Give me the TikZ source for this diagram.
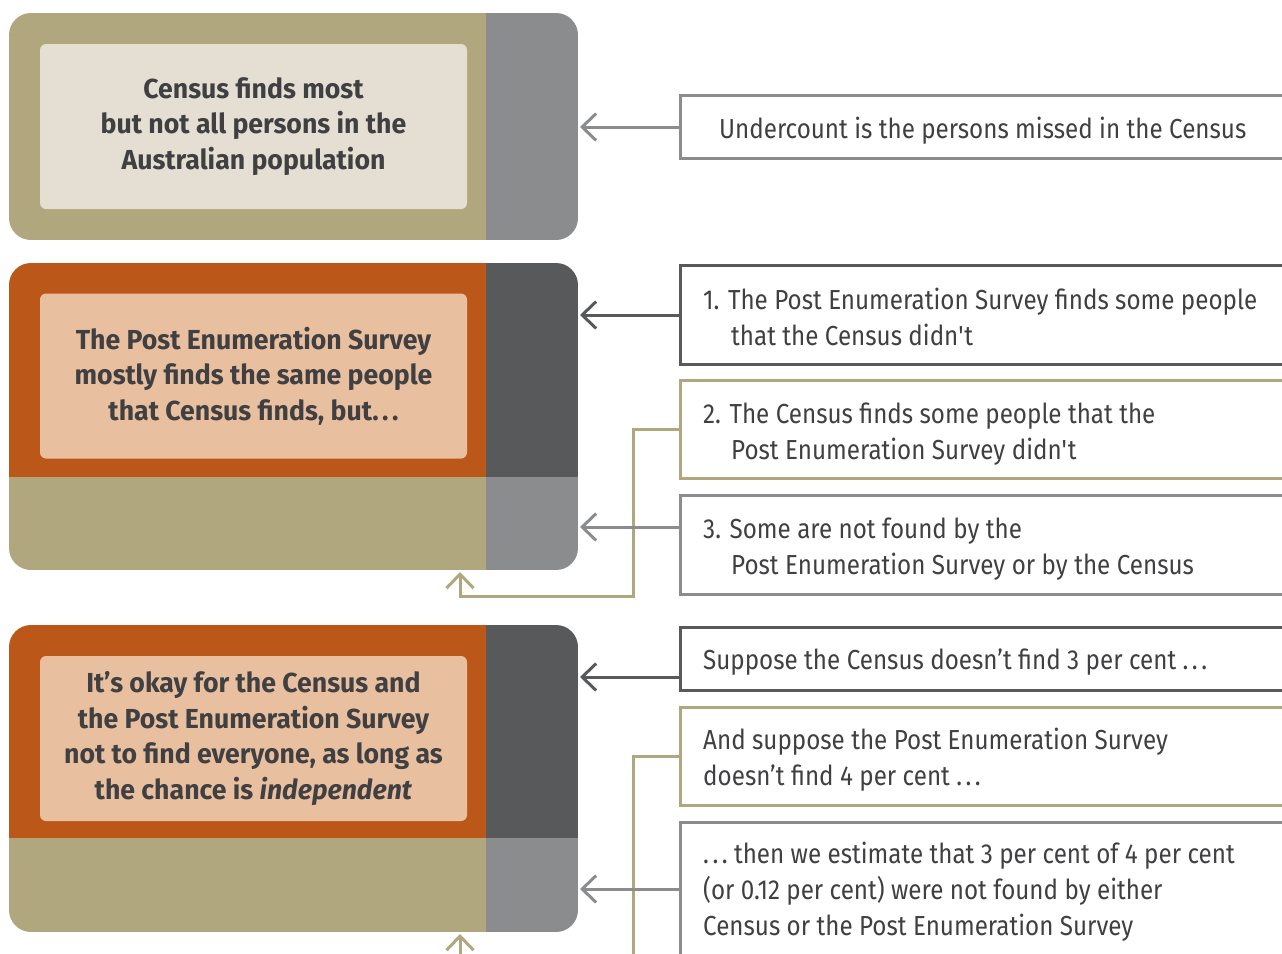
\documentclass[tikz,border=0pt]{standalone}
\usepackage{fontspec}
\setmainfont{Fira Sans}[FakeStretch=0.88, BoldFeatures={FakeStretch=0.97}, BoldItalicFeatures={FakeStretch=0.97}]
\usetikzlibrary{arrows.meta}
\definecolor{olive}{HTML}{B1A77E}
\definecolor{greyL}{HTML}{8B8C8E}
\definecolor{greyD}{HTML}{58595B}
\definecolor{rust}{HTML}{BB5719}
\definecolor{peach}{HTML}{E9C09F}
\definecolor{cream}{HTML}{E4DFD2}
\definecolor{ink}{HTML}{404042}
\newcommand{\mydots}{.\hspace{3.5pt}.\hspace{3.5pt}.}
\tikzset{
  inner/.style={rounded corners=6pt, minimum width=427pt, minimum height=165pt, inner sep=0pt,
    align=center, text=ink, font=\fontsize{27.5}{35.5}\selectfont\bfseries},
  panelname/.style={inner sep=0pt, outer sep=0pt, anchor=north west, minimum width=569pt},
  rbox/.style={draw, line width=3pt, anchor=west, minimum width=700pt, inner sep=0pt, outer sep=0pt},
  rtext/.style={anchor=base west, inner sep=0pt, text=ink, font=\fontsize{27.5}{36}\selectfont},
  tipc/.style={-{Straight Barb[length=14pt,width=27pt,line width=3pt]}},
  conn/.style={line width=3pt, tipc},
  connO/.style={line width=3pt, olive},
}
\begin{document}
\begin{tikzpicture}[x=1pt,y=-1pt]
\useasboundingbox[fill=white] (0,0) rectangle (1282,953);

% panel 1
\begin{scope}
\clip[rounded corners=22pt] (9,13) rectangle (578,240);
\fill[olive] (9,13) rectangle (486,240);
\fill[greyL] (486,13) rectangle (578,240);
\end{scope}
\node[panelname, minimum height=227pt] (p1) at (9,13) {};
\node[inner, fill=cream] (t1) at (253.5,126.5) {Census finds most\\but not all persons in the\\Australian population};

% panel 2
\begin{scope}
\clip[rounded corners=22pt] (9,263) rectangle (578,570);
\fill[rust] (9,263) rectangle (486,477);
\fill[greyD] (486,263) rectangle (578,477);
\fill[olive] (9,477) rectangle (486,570);
\fill[greyL] (486,477) rectangle (578,570);
\end{scope}
\node[panelname, minimum height=307pt] (p2) at (9,263) {};
\node[inner, fill=peach] (t2) at (253.5,376) {The Post Enumeration Survey\\mostly finds the same people\\that Census finds, but\mydots};

% panel 3
\begin{scope}
\clip[rounded corners=22pt] (9,625) rectangle (578,932);
\fill[rust] (9,625) rectangle (486,838);
\fill[greyD] (486,625) rectangle (578,838);
\fill[olive] (9,838) rectangle (486,932);
\fill[greyL] (486,838) rectangle (578,932);
\end{scope}
\node[panelname, minimum height=307pt] (p3) at (9,625) {};
\node[inner, fill=peach] (t3) at (253.5,738.5) {It’s okay for the Census and\\the Post Enumeration Survey\\not to find everyone, as long as\\the chance is \textit{independent}};

% right boxes
\node[rbox, draw=greyL, minimum height=63pt] (a) at (680.5,127) {};
\node[rbox, draw=greyD, minimum height=99pt] (b) at (680.5,315) {};
\node[rbox, draw=olive, minimum height=98pt] (c) at (680.5,429.5) {};
\node[rbox, draw=greyL, minimum height=99pt] (d) at (680.5,545) {};
\node[rbox, draw=greyD, minimum height=63pt] (e) at (680.5,659) {};
\node[rbox, draw=olive, minimum height=98pt] (f) at (680.5,756.5) {};
\node[rbox, draw=greyL, minimum height=200pt] (g) at (680.5,922.5) {};

% texts
\node[rtext] (a1) at (719,138.5) {Undercount is the persons missed in the Census};
\node[rtext] (b1) at (703,309.5) {1. The Post Enumeration Survey finds some people};
\node[rtext] (b2) at (731,345.5) {that the Census didn\textquotesingle t};
\node[rtext] (c1) at (703,423.5) {2. The Census finds some people that the};
\node[rtext] (c2) at (731,459.5) {Post Enumeration Survey didn\textquotesingle t};
\node[rtext] (d1) at (703,538.5) {3. Some are not found by the};
\node[rtext] (d2) at (731,574.5) {Post Enumeration Survey or by the Census};
\node[rtext] (e1) at (703,669.5) {Suppose the Census doesn’t find 3 per cent \mydots};
\node[rtext] (f1) at (703,749.5) {And suppose the Post Enumeration Survey};
\node[rtext] (f2) at (703,785.5) {doesn’t find 4 per cent \mydots};
\node[rtext] (g1) at (703,863) {\mydots\ then we estimate that 3 per cent of 4 per cent};
\node[rtext] (g2) at (703,899) {(or 0.12 per cent) were not found by either};
\node[rtext] (g3) at (703,935) {Census or the Post Enumeration Survey};

% connectors
\draw[conn, greyL] (a.west) -- ([xshift=2pt]a.west -| p1.east);
\draw[conn, greyD] (b.west) -- ([xshift=2pt]b.west -| p2.east);
\coordinate (p2u) at ([yshift=-2pt]p2.south -| 460,0);
\draw[connO, tipc] (c.west) -- ++(-47.5,0) |- ([yshift=-24pt]p2u) -- (p2u);
\draw[conn, greyL] ([yshift=18pt]d.west) -- ([xshift=2pt,yshift=18pt]d.west -| p2.east);
\draw[conn, greyD] ([yshift=-18pt]e.west) -- ([xshift=2pt,yshift=-18pt]e.west -| p3.east);
\draw[connO] (f.west) -- ++(-47.5,0) -- ++(0,220);
\draw[conn, greyL] ([yshift=33.5pt]g.west) -- ([xshift=2pt,yshift=33.5pt]g.west -| p3.east);
\coordinate (p3u) at ([yshift=-2pt]p3.south -| 460,0);
\draw[connO, tipc] ([yshift=-40pt]p3u) -- (p3u);
\end{tikzpicture}
\end{document}
